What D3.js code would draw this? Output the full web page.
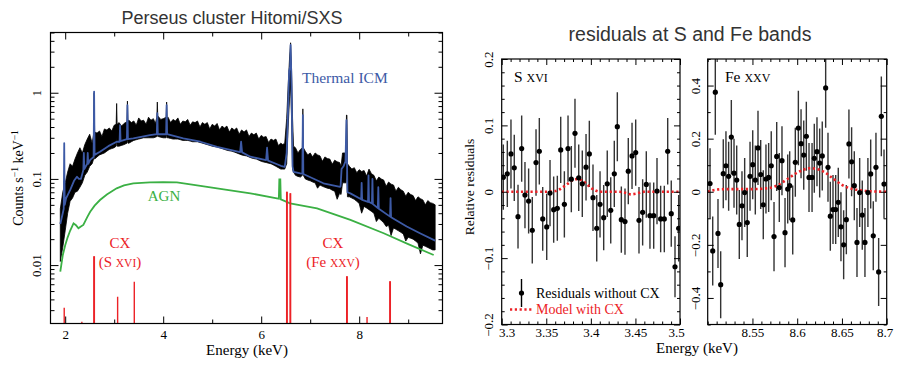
<!DOCTYPE html>
<html><head><meta charset="utf-8">
<script src="https://cdn.jsdelivr.net/npm/d3@7"></script>
<style>body{margin:0;background:#fff}svg{display:block}</style>
</head><body><svg id="c" width="898" height="366"></svg>
<script>
// ---------------- LEFT PANEL DATA ----------------
// observed spectrum envelope (upper / lower edge of the noisy black data)
const dataE  = [1.90,1.95,2.00,2.05,2.10,2.20,2.30,2.40,2.50,2.58,2.59,2.60,2.70,2.80,2.90,3.00,3.04,3.05,3.06,3.10,3.20,3.26,3.27,3.28,3.30,3.40,3.50,3.60,3.70,3.80,3.87,3.88,3.89,3.90,4.00,4.06,4.07,4.08,4.10,4.20,4.30,4.40,4.50,4.60,4.70,4.80,4.90,5.00,5.10,5.20,5.30,5.40,5.50,5.60,5.70,5.80,5.90,6.00,6.10,6.20,6.30,6.40,6.48,6.52,6.55,6.58,6.60,6.62,6.64,6.66,6.70,6.80,6.84,6.85,6.86,6.90,7.00,7.10,7.20,7.30,7.40,7.50,7.60,7.66,7.73,7.74,7.75,7.76,7.80,7.90,8.00,8.10,8.20,8.30,8.40,8.50,8.60,8.70,8.80,8.90,9.00,9.10,9.20,9.30,9.40,9.50,9.55];
const dataHi = [0.045,0.07,0.09,0.12,0.15,0.17,0.23,0.25,0.33,0.33,1.0,0.35,0.36,0.38,0.39,0.42,0.43,0.75,0.43,0.45,0.44,0.46,0.8,0.47,0.48,0.47,0.51,0.48,0.52,0.50,0.52,0.78,0.52,0.53,0.50,0.52,0.78,0.51,0.52,0.49,0.51,0.47,0.49,0.46,0.47,0.45,0.45,0.43,0.44,0.41,0.41,0.39,0.39,0.37,0.37,0.34,0.34,0.32,0.31,0.29,0.29,0.26,0.26,0.5,1.2,2.6,3.8,1.8,0.5,0.24,0.23,0.22,0.23,0.65,0.23,0.21,0.20,0.20,0.185,0.18,0.17,0.165,0.155,0.2,0.2,0.55,0.55,0.15,0.14,0.135,0.128,0.125,0.13,0.11,0.105,0.097,0.092,0.085,0.08,0.072,0.07,0.064,0.062,0.057,0.056,0.052,0.05];
const dataLo = [0.011,0.016,0.025,0.04,0.055,0.07,0.08,0.11,0.14,0.17,0.5,0.17,0.19,0.2,0.22,0.23,0.24,0.3,0.24,0.24,0.25,0.26,0.3,0.26,0.26,0.28,0.29,0.30,0.30,0.30,0.31,0.35,0.31,0.31,0.30,0.30,0.35,0.30,0.30,0.29,0.29,0.28,0.28,0.27,0.27,0.26,0.25,0.24,0.235,0.225,0.215,0.21,0.20,0.19,0.185,0.175,0.17,0.16,0.155,0.15,0.14,0.13,0.13,0.15,0.4,0.9,1.2,0.5,0.13,0.12,0.11,0.105,0.11,0.2,0.11,0.10,0.095,0.09,0.085,0.08,0.077,0.072,0.068,0.09,0.09,0.15,0.12,0.062,0.062,0.058,0.052,0.048,0.044,0.04,0.035,0.031,0.029,0.027,0.025,0.023,0.021,0.02,0.018,0.017,0.016,0.015,0.015];
// in-between samples of the noisy data (dips of the upper and lower edge)
const midE  = [2.15,2.25,2.35,2.45,2.55,2.65,2.75,2.85,2.95,3.15,3.35,3.45,3.55,3.65,3.75,3.84,3.95,4.15,4.25,4.35,4.45,4.55,4.65,4.75,4.85,4.95,5.05,5.15,5.25,5.35,5.45,5.55,5.65,5.75,5.85,5.95,6.05,6.15,6.25,6.35,6.44,6.75,6.95,7.05,7.15,7.25,7.35,7.45,7.55,7.63,7.85,7.95,8.05,8.15,8.25,8.35,8.45,8.55,8.65,8.75,8.85,8.95,9.05,9.15,9.25,9.35,9.45];
const midHi = [0.14,0.2,0.2,0.29,0.26,0.34,0.31,0.37,0.36,0.41,0.45,0.42,0.47,0.43,0.48,0.44,0.49,0.45,0.47,0.43,0.46,0.42,0.45,0.40,0.43,0.38,0.41,0.37,0.39,0.35,0.37,0.33,0.35,0.31,0.325,0.29,0.305,0.265,0.28,0.245,0.25,0.2,0.19,0.18,0.19,0.16,0.172,0.148,0.158,0.14,0.13,0.118,0.122,0.108,0.115,0.095,0.1,0.082,0.087,0.072,0.075,0.063,0.066,0.056,0.059,0.05,0.053];
const midLo = [0.06,0.072,0.09,0.12,0.15,0.18,0.195,0.21,0.225,0.245,0.27,0.285,0.295,0.3,0.3,0.305,0.305,0.295,0.29,0.285,0.28,0.275,0.27,0.265,0.255,0.245,0.237,0.23,0.22,0.212,0.205,0.195,0.187,0.18,0.172,0.165,0.157,0.152,0.145,0.135,0.13,0.107,0.097,0.092,0.078,0.082,0.078,0.074,0.058,0.066,0.06,0.055,0.04,0.046,0.042,0.032,0.033,0.028,0.022,0.026,0.024,0.019,0.0205,0.019,0.0135,0.0165,0.0155];

const modelE = [1.90,1.95,1.97,1.98,1.99,2.02,2.10,2.18,2.24,2.28,2.32,2.37,2.38,2.39,2.45,2.46,2.47,2.51,2.58,2.59,2.60,2.71,2.88,3.05,3.11,3.12,3.13,3.26,3.27,3.28,3.39,3.73,3.87,3.88,3.89,4.06,4.07,4.08,4.41,4.76,5.10,5.57,5.59,5.61,5.78,6.10,6.12,6.14,6.40,6.48,6.52,6.55,6.57,6.59,6.60,6.62,6.64,6.66,6.80,6.84,6.85,6.86,7.27,7.61,7.62,7.64,7.68,7.72,7.74,7.76,7.82,8.04,8.05,8.06,8.18,8.19,8.20,8.26,8.27,8.28,8.38,8.39,8.40,8.63,8.64,8.65,8.97,9.24,9.55];
const modelV = [0.030,0.040,0.045,0.26,0.05,0.06,0.074,0.095,0.106,0.10,0.10,0.127,0.2,0.13,0.15,0.2,0.15,0.166,0.18,1.03,0.19,0.207,0.24,0.27,0.27,0.42,0.275,0.29,0.72,0.29,0.296,0.323,0.33,0.58,0.33,0.33,0.72,0.33,0.296,0.27,0.236,0.205,0.27,0.203,0.181,0.165,0.23,0.163,0.142,0.138,0.2,0.7,1.8,2.0,3.6,1.2,0.14,0.121,0.116,0.115,0.55,0.114,0.089,0.081,0.082,0.13,0.14,0.16,0.48,0.07,0.068,0.058,0.09,0.057,0.054,0.11,0.054,0.052,0.10,0.051,0.046,0.08,0.045,0.0365,0.06,0.036,0.028,0.0234,0.0192];

const agnE = [1.90,1.95,2.00,2.05,2.10,2.17,2.22,2.27,2.32,2.37,2.45,2.51,2.60,2.71,2.85,3.05,3.20,3.39,3.73,4.00,4.28,4.76,5.20,5.78,6.32,6.36,6.37,6.39,6.40,6.59,7.14,7.82,8.50,9.00,9.52];
const agnV = [0.0084,0.013,0.017,0.021,0.025,0.0305,0.029,0.0267,0.028,0.0292,0.036,0.0416,0.049,0.0569,0.066,0.0778,0.084,0.089,0.0913,0.092,0.091,0.0828,0.076,0.068,0.0596,0.059,0.099,0.099,0.058,0.052,0.0456,0.0334,0.0234,0.0175,0.0131];

const cxE = [1.98,2.34,2.585,2.595,3.07,3.41,6.52,6.53,6.59,6.60,7.745,7.755,8.16,8.625,8.635];
const cxV = [0.0032,0.0022,0.0127,0.0127,0.0043,0.0064,0.071,0.071,0.068,0.068,0.0074,0.0074,0.0025,0.0065,0.0065];

const xTicksL = [2,4,6,8], xMinorL = [3,5,7,9];
const yTicksL = [0.01,0.1,1];
const yMinorL = [0.003,0.004,0.005,0.006,0.007,0.008,0.009,0.02,0.03,0.04,0.05,0.06,0.07,0.08,0.09,0.2,0.3,0.4,0.5,0.6,0.7,0.8,0.9,2,3,4,5];

// ---------------- RIGHT PANELS DATA ----------------
const sE = [3.3018,3.3063,3.3104,3.3141,3.3183,3.3224,3.3261,3.3302,3.3343,3.3385,3.3422,3.346,3.3505,3.3542,3.3583,3.3624,3.3662,3.3703,3.3744,3.3781,3.3822,3.3864,3.3904,3.3946,3.3983,3.4024,3.4066,3.4103,3.4144,3.4184,3.4223,3.4263,3.4297,3.4342,3.4383,3.442,3.4462,3.4503,3.454,3.4581,3.4622,3.4663,3.4705,3.4742,3.4783,3.4824,3.4862,3.4902,3.4944,3.4985];
const sV = [0.022,0.027,0.057,0.036,-0.0375,0.065,-0.005,-0.014,-0.058,0.044,0.061,-0.041,-0.053,-0.002,-0.027,-0.025,0.063,-0.019,0.065,0.019,0.088,0.021,0.012,0.037,0.057,-0.009,-0.055,-0.019,-0.039,0.012,-0.028,0.027,0.098,-0.042,-0.045,0.031,0.054,0.059,-0.043,-0.031,0.011,-0.036,-0.036,0.001,-0.041,-0.041,0.061,-0.033,-0.113,-0.055];
const sErr = [0.049,0.05,0.052,0.05,0.048,0.05,0.05,0.049,0.05,0.05,0.05,0.048,0.05,0.05,0.05,0.049,0.05,0.05,0.05,0.05,0.052,0.05,0.05,0.05,0.05,0.05,0.05,0.05,0.049,0.05,0.05,0.05,0.052,0.05,0.05,0.05,0.05,0.05,0.05,0.05,0.05,0.05,0.05,0.05,0.05,0.05,0.05,0.05,0.046,0.05];
const sModelE = [3.30,3.35,3.36,3.37,3.375,3.38,3.385,3.39,3.395,3.40,3.405,3.41,3.43,3.44,3.445,3.45,3.46,3.50];
const sModelV = [0,0,0.001,0.008,0.013,0.018,0.019,0.017,0.012,0.006,0.002,0,0,-0.002,-0.004,-0.003,0,0];

const fE = [8.5026,8.5056,8.5085,8.5115,8.5145,8.5174,8.5204,8.5234,8.5264,8.5294,8.5324,8.5353,8.5383,8.5413,8.5442,8.5473,8.5503,8.5532,8.5562,8.5592,8.5621,8.5651,8.5681,8.571,8.5741,8.5771,8.58,8.583,8.5864,8.5894,8.5916,8.595,8.5979,8.6013,8.6043,8.6073,8.6102,8.6132,8.6166,8.6191,8.6221,8.6251,8.628,8.6318,8.6344,8.637,8.64,8.643,8.6459,8.6489,8.6519,8.6549,8.6578,8.6608,8.6638,8.6668,8.6698,8.6727,8.6757,8.679,8.6821,8.685,8.688,8.691,8.694,8.697];
const fV = [0.031,-0.223,0.375,-0.157,-0.35,0.068,0.098,0.058,0.206,0.07,0.044,-0.123,-0.053,-0.003,-0.116,0.058,0.102,0.044,0.165,0.065,-0.049,0.048,0.054,0.098,-0.169,0.133,0.016,0.117,-0.154,0.01,0.023,-0.106,0.111,0.24,0.181,0.138,0.209,0.054,0.054,0.126,0.151,0.108,0.135,0.391,0.092,-0.092,-0.067,-0.067,-0.04,-0.132,-0.2,-0.105,0.18,0.113,0.023,-0.191,-0.003,-0.088,-0.191,-0.003,0.067,-0.166,0.092,-0.302,0.284,0.029];
const fErr = [0.133,0.13,0.16,0.13,0.126,0.13,0.13,0.13,0.14,0.13,0.13,0.13,0.13,0.13,0.13,0.13,0.13,0.13,0.14,0.13,0.13,0.13,0.13,0.13,0.13,0.13,0.13,0.13,0.13,0.13,0.13,0.13,0.13,0.14,0.13,0.13,0.13,0.13,0.13,0.13,0.13,0.13,0.13,0.15,0.13,0.13,0.13,0.13,0.13,0.13,0.13,0.13,0.13,0.13,0.13,0.13,0.13,0.13,0.13,0.13,0.13,0.13,0.13,0.128,0.15,0.13];
const fModelE = [8.50,8.51,8.52,8.55,8.57,8.58,8.59,8.60,8.61,8.615,8.62,8.63,8.64,8.65,8.66,8.67,8.68,8.70];
const fModelV = [0,0.008,0.01,0.01,0.015,0.028,0.05,0.072,0.086,0.089,0.087,0.075,0.05,0.026,0.012,0.006,0.002,0];

const sXTicks = [3.3,3.35,3.4,3.45,3.5], sXMinor = [3.31,3.32,3.33,3.34,3.36,3.37,3.38,3.39,3.41,3.42,3.43,3.44,3.46,3.47,3.48,3.49];
const sYTicks = [-0.2,-0.1,0,0.1,0.2], sYMinor = [-0.18,-0.16,-0.14,-0.12,-0.08,-0.06,-0.04,-0.02,0.02,0.04,0.06,0.08,0.12,0.14,0.16,0.18];
const fXTicks = [8.55,8.6,8.65,8.7], fXMinor = [8.5,8.51,8.52,8.53,8.54,8.56,8.57,8.58,8.59,8.61,8.62,8.63,8.64,8.66,8.67,8.68,8.69];
const fYTicks = [-0.4,-0.2,0,0.2,0.4], fYMinor = [-0.5,-0.3,-0.1,0.1,0.3,0.5];

// ---------------- DRAWING ----------------
const svg = d3.select("#c");
const serif = "'Liberation Serif','Times New Roman',Times,serif";
const sans = "'Liberation Sans',Arial,Helvetica,sans-serif";
const RED = "#ec2227", BLUE = "#3d5aa6", GREEN = "#3bb044";
const minus = s => String(s).replace("-", "\u2212");

svg.append("rect").attr("width",898).attr("height",366).attr("fill","#fff");

function axis(gen, sel, vals, len, fmt, pad, fs) {
  const a = gen.tickValues(vals).tickSize(-len).tickPadding(pad || 4).tickFormat(fmt || (() => ""));
  sel.call(a);
  sel.select(".domain").remove();
  sel.selectAll("line").attr("stroke", "#000").attr("stroke-width", 1);
  sel.selectAll("text").attr("font-family", serif).attr("font-size", fs || 13).attr("fill", "#000");
  return sel;
}
function rotateLeftLabels(sel, pad) {
  sel.selectAll(".tick text").attr("transform", "rotate(-90)").attr("x", 0).attr("y", -pad)
    .attr("dy", "0").attr("text-anchor", "middle");
}
function frameAxes(g, x, y, X0, X1, Y0, Y1, o) {
  axis(d3.axisBottom(x), g.append("g").attr("transform", `translate(0,${Y1})`), o.xt, o.maj, o.xf, o.xpad, o.fs);
  axis(d3.axisBottom(x), g.append("g").attr("transform", `translate(0,${Y1})`), o.xm, o.min);
  axis(d3.axisTop(x), g.append("g").attr("transform", `translate(0,${Y0})`), o.xt, o.maj);
  axis(d3.axisTop(x), g.append("g").attr("transform", `translate(0,${Y0})`), o.xm, o.min);
  const yl = axis(d3.axisLeft(y), g.append("g").attr("transform", `translate(${X0},0)`), o.yt, o.majY || o.maj, o.yf, o.ypad, o.fs);
  rotateLeftLabels(yl, o.ypad);
  axis(d3.axisLeft(y), g.append("g").attr("transform", `translate(${X0},0)`), o.ym, o.min);
  axis(d3.axisRight(y), g.append("g").attr("transform", `translate(${X1},0)`), o.yt, o.majY || o.maj);
  axis(d3.axisRight(y), g.append("g").attr("transform", `translate(${X1},0)`), o.ym, o.min);
  g.append("rect").attr("x", X0).attr("y", Y0).attr("width", X1 - X0).attr("height", Y1 - Y0)
    .attr("fill", "none").attr("stroke", "#000").attr("stroke-width", 1.2);
}

// ----- Left panel -----
const L = {x0: 50.5, x1: 442.5, y0: 32.5, y1: 323.5};
const xL = d3.scaleLinear([1.7, 9.7], [L.x0, L.x1]);
const yL = d3.scaleLog([0.0021, 5], [L.y1, L.y0]);
const gL = svg.append("g");
svg.append("clipPath").attr("id", "clipL").append("rect").attr("x", L.x0).attr("y", L.y0).attr("width", L.x1 - L.x0).attr("height", L.y1 - L.y0);
const pL = gL.append("g").attr("clip-path", "url(#clipL)");

const dataPts = dataE.map((e, i) => ({e, hi: dataHi[i], lo: dataLo[i]}))
  .concat(midE.map((e, i) => ({e, hi: midHi[i], lo: midLo[i]})))
  .sort((a, b) => a.e - b.e);
pL.append("path").datum(dataPts)
  .attr("d", d3.area().x(d => xL(d.e)).y0(d => yL(d.lo)).y1(d => yL(d.hi)))
  .attr("fill", "#000").attr("stroke", "#000").attr("stroke-width", 0.8);

pL.append("path").datum(agnE.map((e, i) => [e, agnV[i]]))
  .attr("d", d3.line().x(d => xL(d[0])).y(d => yL(d[1])))
  .attr("fill", "none").attr("stroke", GREEN).attr("stroke-width", 1.8);

pL.append("path").datum(modelE.map((e, i) => [e, modelV[i]]))
  .attr("d", d3.line().x(d => xL(d[0])).y(d => yL(d[1])))
  .attr("fill", "none").attr("stroke", BLUE).attr("stroke-width", 1.8).attr("stroke-linejoin", "round");

pL.selectAll("line.cx").data(cxE.map((e, i) => [e, cxV[i]])).join("line")
  .attr("x1", d => xL(d[0])).attr("x2", d => xL(d[0]))
  .attr("y1", yL(0.0021)).attr("y2", d => yL(d[1]))
  .attr("stroke", RED).attr("stroke-width", 1.4);

frameAxes(gL, xL, yL, L.x0, L.x1, L.y0, L.y1, {
  xt: xTicksL, xm: xMinorL, yt: yTicksL, ym: yMinorL, maj: 7, majY: 8, min: 4,
  xf: d => d, yf: d => String(d), xpad: 6, ypad: 9.5, fs: 13
});

const tL = (x, y, txt, col, fs, anchor) => gL.append("text").attr("x", x).attr("y", y).text(txt)
  .attr("font-family", serif).attr("font-size", fs || 15).attr("fill", col).attr("text-anchor", anchor || "start");
tL(302, 83, "Thermal ICM", BLUE, 15.5);
tL(164, 201, "AGN", GREEN, 15, "middle");
tL(120, 248, "CX", RED, 15, "middle");
const sx1 = gL.append("text").attr("x", 120).attr("y", 267).attr("text-anchor", "middle")
  .attr("font-family", serif).attr("font-size", 15).attr("fill", RED);
sx1.append("tspan").text("(S ");
sx1.append("tspan").attr("font-size", 11.5).text("XVI");
sx1.append("tspan").text(")");
tL(333, 248, "CX", RED, 15, "middle");
const fx1 = gL.append("text").attr("x", 333).attr("y", 267).attr("text-anchor", "middle")
  .attr("font-family", serif).attr("font-size", 15).attr("fill", RED);
fx1.append("tspan").text("(Fe ");
fx1.append("tspan").attr("font-size", 11.5).text("XXV");
fx1.append("tspan").text(")");

gL.append("text").attr("x", 247).attr("y", 355).attr("text-anchor", "middle")
  .attr("font-family", serif).attr("font-size", 15).text("Energy (keV)");
const yLab = gL.append("text").attr("transform", "translate(23,178) rotate(-90)").attr("text-anchor", "middle")
  .attr("font-family", serif).attr("font-size", 14);
yLab.append("tspan").text("Counts s");
yLab.append("tspan").attr("font-size", 9.5).attr("dy", -5).text("\u22121");
yLab.append("tspan").attr("dy", 5).text(" keV");
yLab.append("tspan").attr("font-size", 9.5).attr("dy", -5).text("\u22121");

svg.append("text").attr("x", 232).attr("y", 24).attr("text-anchor", "middle")
  .attr("font-family", sans).attr("font-size", 18).attr("fill", "#333").text("Perseus cluster Hitomi/SXS");

// ----- Right panels -----
const RY0 = 59, RY1 = 324.5;
function resPanel(X0, X1, xdom, ydom, E, V, ERR, mE, mV, o) {
  const x = d3.scaleLinear(xdom, [X0, X1]);
  const y = d3.scaleLinear(ydom, [RY1, RY0]);
  const g = svg.append("g");
  const id = "clip" + Math.round(X0);
  svg.append("clipPath").attr("id", id).append("rect").attr("x", X0).attr("y", RY0).attr("width", X1 - X0).attr("height", RY1 - RY0);
  const p = g.append("g").attr("clip-path", `url(#${id})`);
  const pts = E.map((e, i) => ({e, v: V[i], err: ERR[i]}));
  p.selectAll("line.eb").data(pts).join("line")
    .attr("x1", d => x(d.e)).attr("x2", d => x(d.e))
    .attr("y1", d => y(d.v - d.err)).attr("y2", d => y(d.v + d.err))
    .attr("stroke", "#333").attr("stroke-width", 1.4);
  p.append("path").datum(mE.map((e, i) => [e, mV[i]]))
    .attr("d", d3.line().x(d => x(d[0])).y(d => y(d[1])).curve(d3.curveMonotoneX))
    .attr("fill", "none").attr("stroke", RED).attr("stroke-width", 2.6).attr("stroke-dasharray", "2.2,2.6");
  p.selectAll("circle").data(pts).join("circle")
    .attr("cx", d => x(d.e)).attr("cy", d => y(d.v)).attr("r", 2.6).attr("fill", "#000");
  frameAxes(g, x, y, X0, X1, RY0, RY1, {
    xt: o.xt, xm: o.xm, yt: o.yt, ym: o.ym, maj: 6, min: 3,
    xf: o.xf, yf: d => minus(d), xpad: 3.5, ypad: o.ypad, fs: 13
  });
  return {g, x, y};
}
const S = resPanel(501.7, 680, [3.3, 3.5], [-0.2, 0.2], sE, sV, sErr, sModelE, sModelV,
  {xt: sXTicks, xm: sXMinor, yt: sYTicks, ym: sYMinor, xf: d => String(d), ypad: 8.4});
S.g.selectAll("g.tick text").filter(d => d === 3.3).attr("dx", 5);
S.g.selectAll("g.tick text").filter(d => d === 3.5).attr("dx", -4);
const F = resPanel(707.7, 886.7, [8.5, 8.7], [-0.5, 0.5], fE, fV, fErr, fModelE, fModelV,
  {xt: fXTicks, xm: fXMinor, yt: fYTicks, ym: fYMinor, xf: d => String(d), ypad: 7.7});
F.g.selectAll("g.tick text").filter(d => d === 8.7).attr("dx", -2);

// panel labels
const sl = S.g.append("text").attr("x", 514).attr("y", 82).attr("font-family", serif).attr("font-size", 15.5);
sl.append("tspan").text("S ");
sl.append("tspan").attr("font-size", 12).text("XVI");
const fl = F.g.append("text").attr("x", 725).attr("y", 82).attr("font-family", serif).attr("font-size", 15.5);
fl.append("tspan").text("Fe ");
fl.append("tspan").attr("font-size", 12).text("XXV");

// legend
S.g.append("line").attr("x1", 521.5).attr("x2", 521.5).attr("y1", 279).attr("y2", 307).attr("stroke", "#000").attr("stroke-width", 1.4);
S.g.append("circle").attr("cx", 521.5).attr("cy", 293).attr("r", 2.6).attr("fill", "#000");
S.g.append("text").attr("x", 536).attr("y", 298).attr("font-family", serif).attr("font-size", 14).text("Residuals without CX");
S.g.append("line").attr("x1", 510).attr("x2", 532).attr("y1", 309.5).attr("y2", 309.5).attr("stroke", RED).attr("stroke-width", 2.6).attr("stroke-dasharray", "2.2,2.6");
S.g.append("text").attr("x", 536).attr("y", 314).attr("font-family", serif).attr("font-size", 14).attr("fill", RED).text("Model with CX");

svg.append("text").attr("transform", "translate(474,187) rotate(-90)").attr("text-anchor", "middle")
  .attr("font-family", serif).attr("font-size", 13.5).text("Relative residuals");
svg.append("text").attr("x", 697).attr("y", 353).attr("text-anchor", "middle")
  .attr("font-family", serif).attr("font-size", 15).text("Energy (keV)");
svg.append("text").attr("x", 690).attr("y", 41).attr("text-anchor", "middle")
  .attr("font-family", sans).attr("font-size", 19.5).attr("fill", "#333").text("residuals at S and Fe bands");
</script></body></html>
